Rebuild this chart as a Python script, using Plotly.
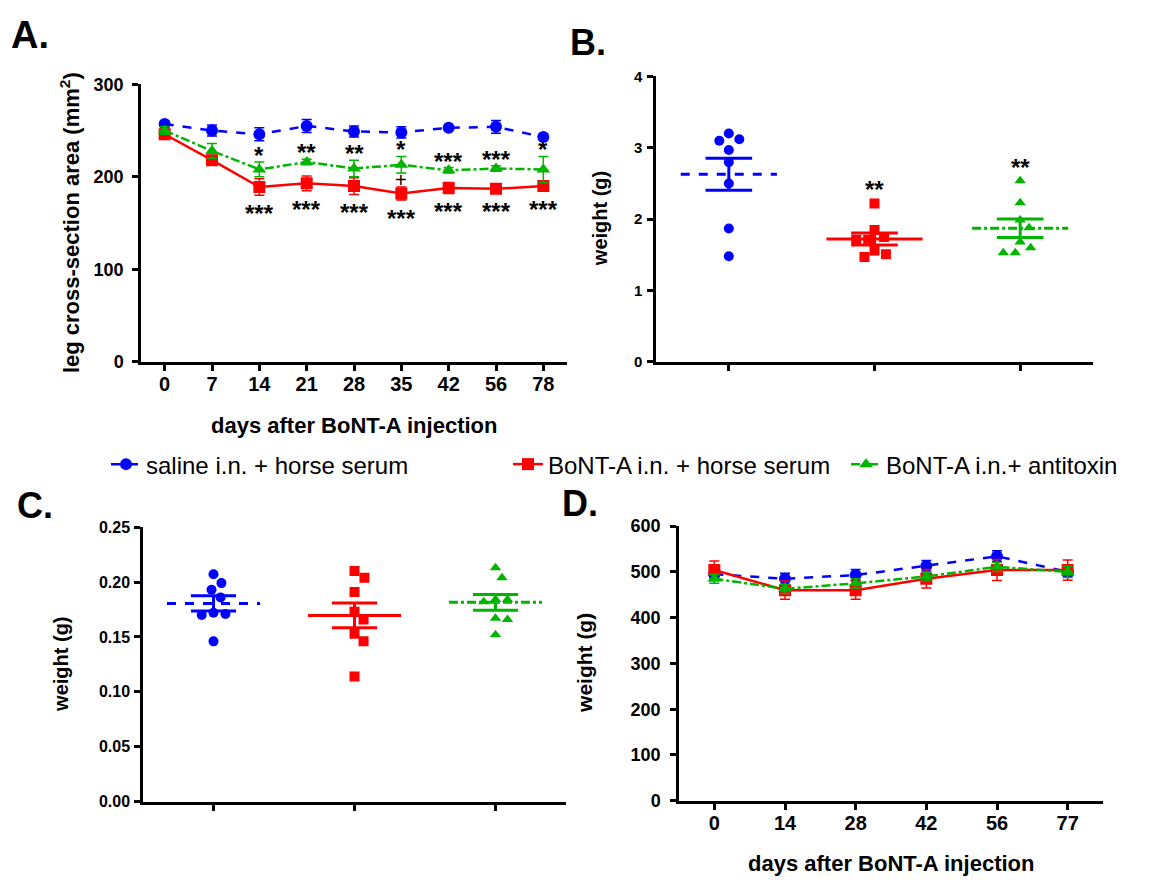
import numpy as np
import plotly.graph_objects as go

W, H = 1157, 888
BLUE, RED, GREEN = "#0000FF", "#FF0000", "#00B400"
FONT = "Liberation Sans, Arial, sans-serif"

# ---- panel A: leg cross-section area ----
days_a = ["0", "7", "14", "21", "28", "35", "42", "56", "78"]
saline_a = [257, 250, 246, 255, 249, 248, 253, 254, 243]
saline_a_err = [3, 6, 7, 7, 6, 6, 2, 7, 3]
bont_a = [246, 218, 189, 193, 190, 182, 188, 187, 190]
bont_a_err = [5, 5, 9, 8, 9, 7, 6, 4, 5]
anti_a = [250, 228, 208, 216, 209, 213, 207, 209, 208]
anti_a_err = [4, 8, 8, 3, 9, 9, 3, 3, 14]
stars_anti = ["", "", "*", "**", "**", "*", "***", "***", "*"]
stars_bont = ["", "", "***", "***", "***", "***", "***", "***", "***"]
plus_mark = ["", "", "", "", "", "+", "", "", ""]

# ---- panel B: muscle weight (g) ----
saline_b = [3.2, 3.12, 3.1, 2.97, 2.8, 2.5, 1.87, 1.48]
bont_b = [2.22, 1.85, 1.75, 1.71, 1.71, 1.56, 1.51, 1.47]
anti_b = [2.54, 2.23, 1.99, 1.88, 1.68, 1.60, 1.53, 1.53]
stars_b = ["", "**", "**"]

# ---- panel C: weight (g) ----
saline_c = [0.207, 0.199, 0.193, 0.186, 0.172, 0.171, 0.170, 0.146]
bont_c = [0.210, 0.204, 0.191, 0.173, 0.166, 0.153, 0.146, 0.114]
anti_c = [0.213, 0.204, 0.184, 0.184, 0.182, 0.167, 0.166, 0.152]

# ---- panel D: body weight ----
days_d = ["0", "14", "28", "42", "56", "77"]
saline_d = [495, 485, 493, 513, 534, 500]
saline_d_err = [10, 12, 12, 12, 12, 10]
bont_d = [504, 460, 460, 485, 504, 504]
bont_d_err = [20, 20, 20, 20, 23, 22]
anti_d = [485, 463, 475, 490, 511, 500]
anti_d_err = [10, 10, 10, 10, 10, 12]


def px_dom(a, b, size):
    return [a / size, b / size]


def py_dom(top, bottom):
    return [1 - bottom / H, 1 - top / H]


# plot boxes in pixels (left, right, top, bottom)
box = {
    "": (141, 567, 76, 360),
    "2": (656, 1093, 68, 360),
    "3": (143, 566, 529, 810),
    "4": (679, 1103, 528, 809),
}


def swarm(values, px_per_unit, diam):
    placed, offs = [], []
    for v in values:
        y = v * px_per_unit
        cands = [0.0]
        for xj, yj in placed:
            dy = abs(y - yj)
            if dy < diam:
                dx = (diam ** 2 - dy ** 2) ** 0.5
                cands += [xj + dx, xj - dx]
        cands.sort(key=lambda c: (abs(c), -c))
        pick = cands[-1]
        for c in cands:
            if all((c - xj) ** 2 + (y - yj) ** 2 >= diam ** 2 - 1e-6 for xj, yj in placed):
                pick = c
                break
        placed.append((pick, y))
        offs.append(pick)
    return offs


fig = go.Figure()

series = [
    ("saline i.n. + horse serum", BLUE, "circle", "dash", "legend"),
    ("BoNT-A i.n. + horse serum", RED, "square", "solid", "legend2"),
    ("BoNT-A i.n.+ antitoxin", GREEN, "triangle-up", "dashdot", "legend3"),
]

# panel A lines
xa = list(range(len(days_a)))
for (name, col, sym, dash, leg), ys, es in zip(series, [saline_a, bont_a, anti_a],
                                               [saline_a_err, bont_a_err, anti_a_err]):
    fig.add_trace(go.Scatter(
        x=xa, y=ys, name=name, legend=leg, showlegend=True,
        mode="lines+markers",
        line=dict(color=col, width=2.5, dash=dash),
        marker=dict(color=col, symbol=sym, size=12),
        error_y=dict(type="data", array=es, color=col, thickness=1.5, width=5),
        xaxis="x", yaxis="y",
    ))

# panel D lines
xd = list(range(len(days_d)))
for (name, col, sym, dash, leg), ys, es in zip(series, [saline_d, bont_d, anti_d],
                                               [saline_d_err, bont_d_err, anti_d_err]):
    fig.add_trace(go.Scatter(
        x=xd, y=ys, name=name, showlegend=False,
        mode="lines+markers",
        line=dict(color=col, width=2.5, dash=dash),
        marker=dict(color=col, symbol=sym, size=12),
        error_y=dict(type="data", array=es, color=col, thickness=1.5, width=5),
        xaxis="x4", yaxis="y4",
    ))


# panels B and C: scatter dot plots with mean +/- SEM
def dot_panel(groups, ax, ymax):
    l, r, t, b = box[ax]
    ppu = (b - t) / ymax
    ppc = (r - l) / 3.0
    for i, ((name, col, sym, dash, leg), vals) in enumerate(zip(series, groups)):
        offs = swarm(vals, ppu, 12)
        fig.add_trace(go.Scatter(
            x=[i + o / ppc for o in offs], y=vals, mode="markers", showlegend=False,
            marker=dict(color=col, symbol=sym, size=10),
            xaxis="x" + ax, yaxis="y" + ax,
        ))
        m = float(np.mean(vals))
        sem = float(np.std(vals, ddof=1) / np.sqrt(len(vals)))
        fig.add_trace(go.Scatter(
            x=[i - 0.33, i + 0.33], y=[m, m], mode="lines", showlegend=False,
            line=dict(color=col, width=3, dash=dash), xaxis="x" + ax, yaxis="y" + ax,
        ))
        fig.add_trace(go.Scatter(
            x=[i - 0.16, i + 0.16, None, i - 0.16, i + 0.16, None, i, i],
            y=[m + sem, m + sem, None, m - sem, m - sem, None, m - sem, m + sem],
            mode="lines", showlegend=False,
            line=dict(color=col, width=3), xaxis="x" + ax, yaxis="y" + ax,
        ))


dot_panel([saline_b, bont_b, anti_b], "2", 4)
dot_panel([saline_c, bont_c, anti_c], "3", 0.25)


def bfont(size):
    return dict(family=FONT, size=size, color="black", weight="bold")


axis_common = dict(showline=True, linewidth=2.5, linecolor="black", ticks="outside",
                   ticklen=6, tickwidth=2.5, tickcolor="black", showgrid=False,
                   zeroline=False, tickfont=bfont(18))

layout_axes = {}
for ax, (l, r, t, b) in box.items():
    anchor = "y" + ax
    layout_axes["xaxis" + ax] = dict(axis_common, domain=px_dom(l, r, W), anchor=anchor,
                                     range=[-0.5, {"": 8.5, "2": 2.5, "3": 2.5, "4": 5.5}[ax]])
    layout_axes["yaxis" + ax] = dict(axis_common, domain=py_dom(t, b), anchor="x" + ax)

layout_axes["xaxis"].update(tickvals=xa, ticktext=days_a, tickfont=bfont(20), ticklabelstandoff=-4)
layout_axes["xaxis4"].update(tickvals=xd, ticktext=days_d, tickfont=bfont(20), ticklabelstandoff=-4)
layout_axes["xaxis2"].update(tickvals=[0, 1, 2], showticklabels=False)
layout_axes["xaxis3"].update(tickvals=[0, 1, 2], showticklabels=False)
layout_axes["yaxis"].update(range=[0, 300], tickvals=[0, 100, 200, 300], ticklabelstandoff=5)
layout_axes["yaxis2"].update(range=[0, 4], tickvals=[0, 1, 2, 3, 4], tickfont=bfont(15),
                             ticklabelstandoff=2)
layout_axes["yaxis3"].update(range=[0, 0.25], tickvals=[0, 0.05, 0.10, 0.15, 0.20, 0.25],
                             tickformat=".2f", tickfont=bfont(16), ticklabelstandoff=1)
layout_axes["yaxis4"].update(range=[0, 600], tickvals=list(range(0, 601, 100)),
                             ticklabelstandoff=6)

ann = []


def txt(x, y, s, size, xref="paper", yref="paper", angle=0, bold=True, **kw):
    kw.setdefault("xanchor", "center")
    kw.setdefault("yanchor", "middle")
    ann.append(dict(x=x, y=y, xref=xref, yref=yref, text=("<b>%s</b>" % s) if bold else s,
                    showarrow=False, textangle=angle,
                    font=dict(family=FONT, size=size, color="black"), **kw))


# significance marks in panel A
for i in xa:
    if stars_anti[i]:
        txt(i, anti_a[i] + anti_a_err[i], stars_anti[i], 24, "x", "y",
            yanchor="bottom", yshift=-9)
    if stars_bont[i]:
        txt(i, bont_a[i] - bont_a_err[i], stars_bont[i], 24, "x", "y",
            yanchor="top", yshift=-3)
    if plus_mark[i]:
        txt(i, (anti_a[i] - anti_a_err[i] + bont_a[i] + bont_a_err[i]) / 2, plus_mark[i], 20,
            "x", "y", bold=False)
for i, (s, vals) in enumerate(zip(stars_b, [saline_b, bont_b, anti_b])):
    if s:
        txt(i, max(vals), s, 24, "x2", "y2", yanchor="bottom", yshift=-2)

# panel letters
txt(30 / W, 1 - 26 / H, "A.", 38)
txt(588 / W, 1 - 33 / H, "B.", 36)
txt(35 / W, 1 - 507 / H, "C.", 36)
txt(580 / W, 1 - 505 / H, "D.", 36)

# axis titles
txt(70 / W, 1 - 218 / H, "leg cross-section area (mm<sup>2</sup>)", 22, angle=-90)
txt(600 / W, 1 - 214 / H, "weight (g)", 20, angle=-90)
txt(61 / W, 1 - 670 / H, "weight (g)", 20, angle=-90)
txt(585 / W, 1 - 668 / H, "weight (g)", 21, angle=-90)
txt(354 / W, 1 - 425 / H, "days after BoNT-A injection", 22)
txt(891 / W, 1 - 873 / H, "days after BoNT-A injection", 22)

leg_common = dict(orientation="h", yanchor="middle", xanchor="left", bgcolor="rgba(0,0,0,0)",
                  font=dict(family=FONT, size=24, color="black"), y=1 - 465 / H)

fig.update_layout(
    width=W, height=H, margin=dict(l=0, r=0, t=0, b=0),
    paper_bgcolor="white", plot_bgcolor="white",
    annotations=ann,
    legend=dict(leg_common, x=106 / W),
    legend2=dict(leg_common, x=508 / W),
    legend3=dict(leg_common, x=846 / W),
    **layout_axes,
)

# drop the browser's default page margin so the figure sits at the window origin
fig.write_html("out.html", config={"displayModeBar": False},
               post_script="document.body.style.margin='0px';")
